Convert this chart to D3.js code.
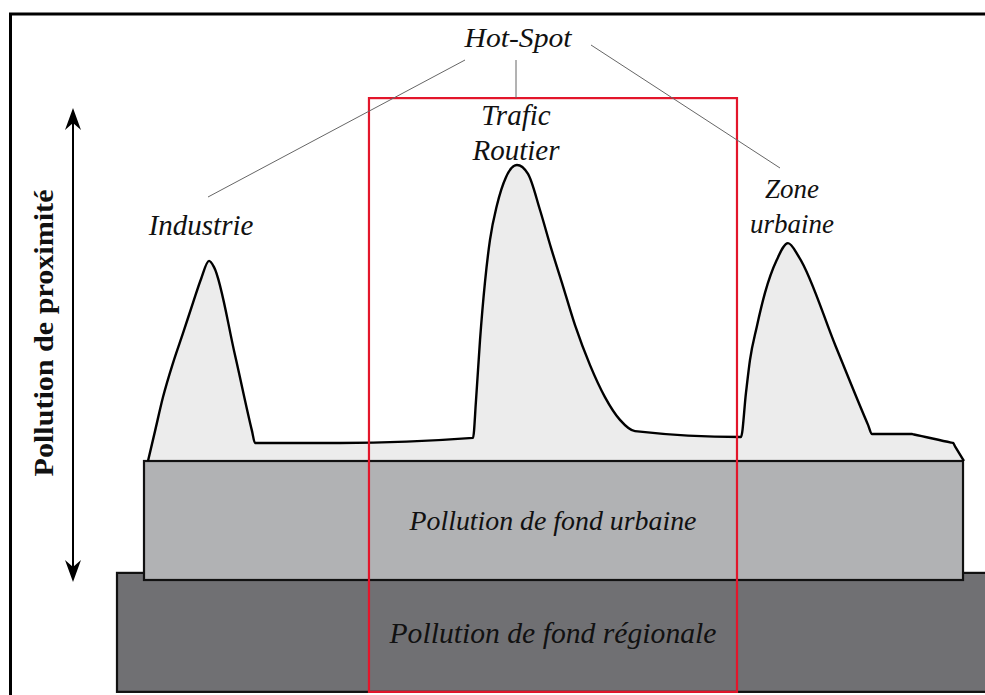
<!DOCTYPE html>
<html>
<head>
<meta charset="utf-8">
<script src="https://cdn.jsdelivr.net/npm/d3@7"></script>
<style>
body { margin: 0; background: #fff; }
svg text { font-family: "Liberation Serif", "Times New Roman", "DejaVu Serif", serif; }
</style>
</head>
<body>
<svg id="chart" width="985" height="695"></svg>
<script>
// proximity pollution profile along the transect (distance, level)
const distance = [0, 0.86, 1.84, 3.06, 4.29, 5.51, 6.5, 7.48, 8.09, 10.66, 12.75, 13.11, 23.53,
  39.83, 40.2, 40.69, 41.3, 41.91, 42.77, 43.87, 45.22, 46.57, 48.04, 49.39, 50.74,
  52.33, 54.17, 56.0, 57.84, 59.68,
  72.67, 73.28, 73.77, 74.6, 75.61, 77.05, 78.43, 79.78, 84.31, 88.24, 88.73,
  93.63, 93.87, 98.41, 98.65, 98.9, 100];
const level = [0, 10.1, 21.6, 33.1, 43.2, 53.4, 61.5, 67.6, 65.5, 35.8, 10.1, 6.1, 6.1,
  7.8, 20.6, 40.9, 60.5, 74.7, 86.5, 95.9, 100, 97.0, 84.8, 72.0, 60.1,
  45.9, 32.4, 21.6, 13.9, 10.1,
  8.1, 23.0, 34.1, 45.3, 56.8, 67.9, 73.6, 68.9, 38.5, 12.2, 9.1,
  9.1, 8.97, 6.23, 6.1, 4.97, 0];

// background layers
const layerNames = ["Pollution de fond urbaine", "Pollution de fond régionale"];
const layerStart = [-0.49, -3.8];
const layerEnd = [99.88, 106];
const layerTop = [0, -37.8];
const layerBottom = [-40.2, -78.0];

// hot-spot labels
const hotSpotTitle = "Hot-Spot";
const peakLabels = [["Industrie"], ["Trafic", "Routier"], ["Zone", "urbaine"]];

// zone highlighted in red (around road traffic)
const highlightZone = [27.08, 72.18];
const highlightTop = 122.6;

const axisTitle = "Pollution de proximité";

const svg = d3.select("#chart");

const x = d3.scaleLinear().domain([0, 100]).range([148, 964]);
const y = d3.scaleLinear().domain([0, 100]).range([461, 165]);

// outer frame (right and bottom run off the picture)
svg.append("rect")
  .attr("x", 10.5).attr("y", 14)
  .attr("width", 1000).attr("height", 720)
  .attr("fill", "none")
  .attr("stroke", "#000")
  .attr("stroke-width", 3);

const layerFill = ["#b1b2b4", "#707073"];

// regional layer first, urban on top of it
const drawLayer = i => {
  svg.append("rect")
    .attr("x", x(layerStart[i]))
    .attr("y", y(layerTop[i]))
    .attr("width", x(layerEnd[i]) - x(layerStart[i]))
    .attr("height", y(layerBottom[i]) - y(layerTop[i]))
    .attr("fill", layerFill[i])
    .attr("stroke", "#111")
    .attr("stroke-width", 2.2);
};

drawLayer(1);

const pts = distance.map((d, i) => [d, level[i]]);

const area = d3.area()
  .x(d => x(d[0]))
  .y0(y(0))
  .y1(d => y(d[1]))
  .curve(d3.curveMonotoneX);

const line = d3.line()
  .x(d => x(d[0]))
  .y(d => y(d[1]))
  .curve(d3.curveMonotoneX);

svg.append("path")
  .attr("d", area(pts))
  .attr("fill", "#ececec");

drawLayer(0);

svg.append("path")
  .attr("d", line(pts))
  .attr("fill", "none")
  .attr("stroke", "#000")
  .attr("stroke-width", 2.4)
  .attr("stroke-linejoin", "round");

// layer captions
const captionSize = [28, 30];
const captionWidth = [287, 327];
layerNames.forEach((name, i) => {
  svg.append("text")
    .attr("x", x((highlightZone[0] + highlightZone[1]) / 2))
    .attr("y", (y(layerTop[i]) + y(layerBottom[i])) / 2 + (i === 0 ? 10 : 11))
    .attr("text-anchor", "middle")
    .style("font-style", "italic")
    .style("font-size", captionSize[i] + "px")
    .attr("textLength", captionWidth[i])
    .attr("lengthAdjust", "spacingAndGlyphs")
    .attr("fill", "#111")
    .text(name);
});

// red highlight box
svg.append("rect")
  .attr("x", x(highlightZone[0]))
  .attr("y", y(highlightTop))
  .attr("width", x(highlightZone[1]) - x(highlightZone[0]))
  .attr("height", y(layerBottom[1]) - y(highlightTop))
  .attr("fill", "none")
  .attr("stroke", "#e3162b")
  .attr("stroke-width", 2.2);

// peak labels
const labelPos = [
  { cx: 201, base: 235, size: 29 },
  { cx: 516, base: 125, size: 29 },
  { cx: 792, base: 198, size: 27 }
];
peakLabels.forEach((lines, i) => {
  const t = svg.append("text")
    .attr("text-anchor", "middle")
    .style("font-style", "italic")
    .style("font-size", labelPos[i].size + "px")
    .attr("fill", "#111");
  lines.forEach((s, k) => {
    t.append("tspan")
      .attr("x", labelPos[i].cx)
      .attr("y", labelPos[i].base + k * 35)
      .text(s);
  });
});

// hot-spot title and leader lines
svg.append("text")
  .attr("x", 518).attr("y", 47)
  .attr("text-anchor", "middle")
  .style("font-style", "italic")
  .style("font-size", "28px")
  .attr("textLength", 107)
  .attr("lengthAdjust", "spacingAndGlyphs")
  .attr("fill", "#111")
  .text(hotSpotTitle);

const leaders = [
  [[465, 60], [208, 197]],
  [[516, 60], [516, y(highlightTop)]],
  [[591, 45], [780, 168]]
];
svg.selectAll(".leader")
  .data(leaders)
  .enter().append("line")
  .attr("class", "leader")
  .attr("x1", d => d[0][0]).attr("y1", d => d[0][1])
  .attr("x2", d => d[1][0]).attr("y2", d => d[1][1])
  .attr("stroke", "#666")
  .attr("stroke-width", 1);

// double arrow for proximity pollution
const ax = 73, aTop = 108, aBot = 582;
svg.append("line")
  .attr("x1", ax).attr("y1", aTop + 10)
  .attr("x2", ax).attr("y2", aBot - 10)
  .attr("stroke", "#000")
  .attr("stroke-width", 2);
const head = (tip, dir) => {
  const L = 22, W = 8, N = 15;
  return `M${ax},${tip} L${ax - W},${tip + dir * L} L${ax},${tip + dir * N} L${ax + W},${tip + dir * L} Z`;
};
svg.append("path").attr("d", head(aTop, 1)).attr("fill", "#000");
svg.append("path").attr("d", head(aBot, -1)).attr("fill", "#000");

svg.append("text")
  .attr("transform", "translate(53,333) rotate(-90)")
  .attr("text-anchor", "middle")
  .style("font-weight", "bold")
  .style("font-size", "28px")
  .attr("textLength", 287)
  .attr("lengthAdjust", "spacingAndGlyphs")
  .attr("fill", "#111")
  .text(axisTitle);
</script>
</body>
</html>
